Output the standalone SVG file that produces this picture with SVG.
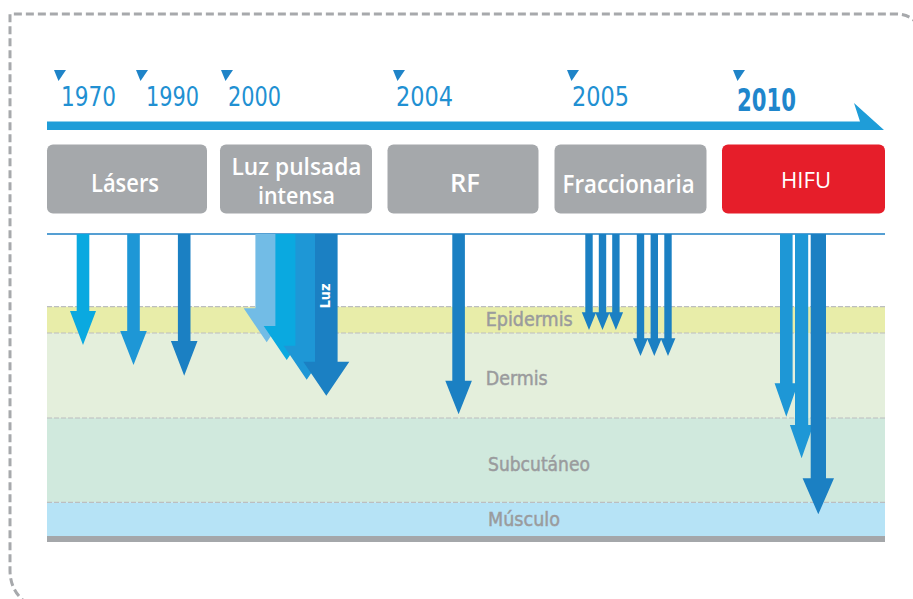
<svg xmlns="http://www.w3.org/2000/svg" width="913" height="599" viewBox="0 0 913 599">
<style>
.yr{font-family:"DejaVu Sans Condensed","DejaVu Sans",sans-serif;font-stretch:condensed;fill:#2190d2;font-size:26px}
.tri{fill:#1f84c8}
.box{fill:#a5a8ab}
.bt{font-family:"Open Sans","Noto Sans",sans-serif;font-weight:600;fill:#fff;font-size:25px;text-anchor:middle}
.lay{font-family:"DejaVu Sans Condensed","DejaVu Sans",sans-serif;font-stretch:condensed;fill:#9a9b9d;stroke:#9a9b9d;stroke-width:0.45;font-size:19px}
.dl{stroke:#bcbec0;stroke-width:1.2;stroke-dasharray:5 2;fill:none}
.cy{fill:#0aa9e0}
.md{fill:#1e97d6}
.dk{fill:#1b80c3}
.lt{fill:#72bce6}
</style>
<rect width="913" height="599" fill="#fff"/>
<path d="M28 604 Q10 592 10 570 L10 14 L895 14 Q912 14 918 26" fill="none" stroke="#a7a9ac" stroke-width="3" stroke-dasharray="8 4"/>

<g id="timeline">
<polygon points="47,121.5 860,121.5 854,103 884,130 47,130" fill="#1f9dd8"/>
<polygon class="tri" points="54,70 66,70 58.5,81"/>
<text class="yr" x="61" y="106" textLength="55" lengthAdjust="spacingAndGlyphs">1970</text>
<polygon class="tri" points="136,70 148,70 140.5,81"/>
<text class="yr" x="146" y="106" textLength="53" lengthAdjust="spacingAndGlyphs">1990</text>
<polygon class="tri" points="221,70 233,70 225.5,81"/>
<text class="yr" x="228" y="106" textLength="53" lengthAdjust="spacingAndGlyphs">2000</text>
<polygon class="tri" points="393,70 405,70 397.5,81"/>
<text class="yr" x="396" y="106" textLength="57" lengthAdjust="spacingAndGlyphs">2004</text>
<polygon class="tri" points="567,70 579,70 571.5,81"/>
<text class="yr" x="572" y="106" textLength="57" lengthAdjust="spacingAndGlyphs">2005</text>
<polygon class="tri" points="733,70 745,70 737.5,81"/>
<text class="yr" x="737" y="111" style="font-size:32px;font-weight:bold;fill:#1f86cc" textLength="59" lengthAdjust="spacingAndGlyphs">2010</text>
</g>

<g id="node-laseres">
<rect class="box" x="47" y="144.5" width="160" height="69" rx="6"/>
<text class="bt" x="125" y="192" textLength="68" lengthAdjust="spacingAndGlyphs">Lásers</text>
</g>
<g id="node-luz">
<rect class="box" x="220" y="144.5" width="152" height="69" rx="6"/>
<text class="bt" x="296.5" y="175" style="font-size:23px" textLength="130" lengthAdjust="spacingAndGlyphs">Luz pulsada</text>
<text class="bt" x="296.5" y="204" style="font-size:23px" textLength="77" lengthAdjust="spacingAndGlyphs">intensa</text>
</g>
<g id="node-rf">
<rect class="box" x="387.5" y="144.5" width="151" height="69" rx="6"/>
<text class="bt" x="465" y="191.5" textLength="30" lengthAdjust="spacingAndGlyphs">RF</text>
</g>
<g id="node-fraccionaria">
<rect class="box" x="554.5" y="144.5" width="152" height="69" rx="6"/>
<text class="bt" x="628.6" y="192.5" textLength="132" lengthAdjust="spacingAndGlyphs">Fraccionaria</text>
</g>
<g id="node-hifu">
<rect x="722" y="144.5" width="163" height="69" rx="6" fill="#e61e2a"/>
<text class="bt" x="806" y="188" style="font-size:21px;font-weight:400" textLength="50" lengthAdjust="spacingAndGlyphs">HIFU</text>
</g>

<g id="layers">
<rect x="47" y="306.7" width="838" height="26.3" fill="#e8eda9"/>
<rect x="47" y="333" width="838" height="85" fill="#e4efdc"/>
<rect x="47" y="418" width="838" height="84.3" fill="#d0e9dd"/>
<rect x="47" y="502.3" width="838" height="34" fill="#b6e3f6"/>
<rect x="47" y="536" width="838" height="6" fill="#a4a7aa"/>
<line class="dl" x1="47" y1="306.7" x2="885" y2="306.7"/>
<line class="dl" x1="47" y1="333" x2="885" y2="333"/>
<line class="dl" x1="47" y1="418" x2="885" y2="418"/>
<line class="dl" x1="47" y1="502.3" x2="885" y2="502.3"/>
<line x1="47" y1="234" x2="885" y2="234" stroke="#1d7fc4" stroke-width="1.6"/>
<text class="lay" x="485.7" y="326" textLength="87" lengthAdjust="spacingAndGlyphs">Epidermis</text>
<text class="lay" x="485.7" y="385" textLength="62" lengthAdjust="spacingAndGlyphs">Dermis</text>
<text class="lay" x="488" y="471" textLength="102" lengthAdjust="spacingAndGlyphs">Subcutáneo</text>
<text class="lay" x="488" y="526" textLength="72" lengthAdjust="spacingAndGlyphs">Músculo</text>
</g>

<g id="connectors">
<polygon class="cy" points="76.7,234 89.3,234 89.3,311 96,311 83,345 70,311 76.7,311"/>
<polygon class="md" points="127.2,234 139.8,234 139.8,331 146.8,331 133.5,365 120.2,331 127.2,331"/>
<polygon class="dk" points="177.9,234 190.5,234 190.5,341 197.5,341 184.2,375.7 170.9,341 177.9,341"/>

<polygon class="lt" points="255.4,234 278,234 278,308.3 289.7,308.3 266.7,342.3 243.7,308.3 255.4,308.3"/>
<polygon class="cy" points="275.4,234 298,234 298,326 309.7,326 286.7,360 263.7,326 275.4,326"/>
<polygon class="md" points="295.4,234 318,234 318,345.7 329.7,345.7 306.7,379.7 283.7,345.7 295.4,345.7"/>
<polygon class="dk" points="315,234 337.6,234 337.6,361.7 349.3,361.7 326.3,395.7 303.3,361.7 315,361.7"/>
<text x="0" y="0" transform="translate(329.5,296) rotate(-90)" text-anchor="middle" style="font-family:'DejaVu Sans Condensed','DejaVu Sans',sans-serif;font-weight:bold;font-size:14px;fill:#fff" textLength="25" lengthAdjust="spacingAndGlyphs">Luz</text>

<polygon class="dk" points="452.3,234 464.9,234 464.9,380.7 471.9,380.7 458.6,414.3 445.3,380.7 452.3,380.7"/>

<polygon class="dk" points="585.3,234 592.7,234 592.7,312.3 596.2,312.3 589,330 581.8,312.3 585.3,312.3"/>
<polygon class="dk" points="598.8,234 606.2,234 606.2,312.3 609.7,312.3 602.5,330 595.3,312.3 598.8,312.3"/>
<polygon class="dk" points="612.2,234 619.6,234 619.6,312.3 623.1,312.3 615.9,330 608.7,312.3 612.2,312.3"/>
<polygon class="dk" points="636.8,234 644.2,234 644.2,338.3 647.9,338.3 640.5,356 633.1,338.3 636.8,338.3"/>
<polygon class="dk" points="650.6,234 658,234 658,338.3 661.7,338.3 654.3,356 646.9,338.3 650.6,338.3"/>
<polygon class="dk" points="664.3,234 671.7,234 671.7,338.3 675.4,338.3 668,356 660.6,338.3 664.3,338.3"/>

<polygon class="md" points="780,234 792.6,234 792.6,383.3 798,383.3 786.3,416.7 774.6,383.3 780,383.3"/>
<polygon class="md" points="795,234 808.2,234 808.2,425 813.3,425 801.6,458.3 789.9,425 795,425"/>
<polygon class="dk" points="810.7,234 826,234 826,478.3 834,478.3 818.3,514.3 802.6,478.3 810.7,478.3"/>
</g>
</svg>
